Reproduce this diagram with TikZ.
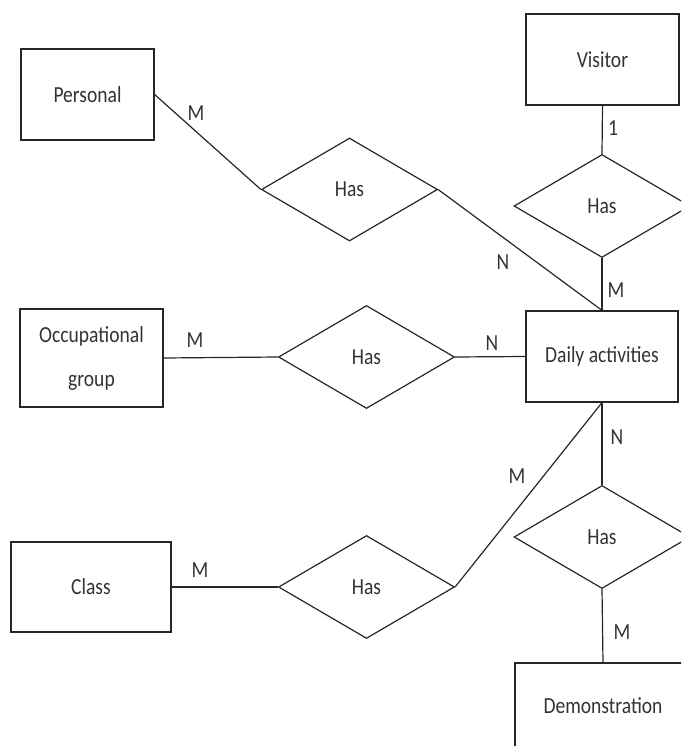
\documentclass[tikz,border=0pt]{standalone}
\usepackage{fontspec}
\setmainfont{Carlito}[FakeStretch=0.85]
\usetikzlibrary{shapes.geometric}
\begin{document}
\begin{tikzpicture}[x=1pt,y=-1pt,
  every node/.style={font=\fontsize{23}{27}\selectfont, text=black!80},
  entity/.style={draw=black!85, line width=1.2pt, rectangle, inner sep=0pt},
  rel/.style={draw=black!85, line width=1.2pt, diamond, inner sep=0pt,
              minimum width=176pt, minimum height=103pt},
  card/.style={inner sep=0pt},
  link/.style={draw=black!85, line width=1.2pt}]
\useasboundingbox (0,0) rectangle (681,746);
\clip (0,0) rectangle (681,746);

% entities
\node[entity, minimum width=133pt, minimum height=91pt] (per) at (87.5,94.5) {Personal};
\node[entity, minimum width=153pt, minimum height=91pt] (vis) at (602.5,59.5) {Visitor};
\node[entity, minimum width=143pt, minimum height=98pt, align=center] (occ) at (91.5,358) {Occupational\\[17pt]group};
\node[entity, minimum width=152pt, minimum height=91pt] (day) at (602,356.5) {Daily activities};
\node[entity, minimum width=160pt, minimum height=90pt] (cls) at (91,587) {Class};
\node[entity, minimum width=176pt, minimum height=86pt] (dem) at (603,706) {Demonstration};

% relationships
\node[rel] (r1) at (349.5,189.5) {Has};
\node[rel] (r2) at (366.5,357) {Has};
\node[rel] (r3) at (366.5,587) {Has};
\node[rel] (r4) at (602,206) {Has};
\node[rel] (r5) at (602,537) {Has};

% connectors
\draw[link] (per.east) -- (r1.west);
\draw[link] (r1.east) -- (day.north);
\draw[link] (vis.south) -- (r4.north);
\draw[link] (r4.south) -- (day.north);
\draw[link] (occ.east) -- (r2.west);
\draw[link] (r2.east) -- (day.west);
\draw[link] (cls.east) -- (r3.west);
\draw[link] (r3.east) -- (day.south);
\draw[link] (day.south) -- (r5.north);
\draw[link] (r5.south) -- (dem.north);

% cardinalities
\node[card] (c1) at (196,113) {M};
\node[card] (c2) at (503,262) {N};
\node[card] (c3) at (613,128) {1};
\node[card] (c4) at (616,290) {M};
\node[card] (c5) at (195,340) {M};
\node[card] (c6) at (492,343) {N};
\node[card] (c7) at (617,437) {N};
\node[card] (c8) at (517,476) {M};
\node[card] (c9) at (200,570) {M};
\node[card] (c10) at (622,632) {M};
\end{tikzpicture}
\end{document}
